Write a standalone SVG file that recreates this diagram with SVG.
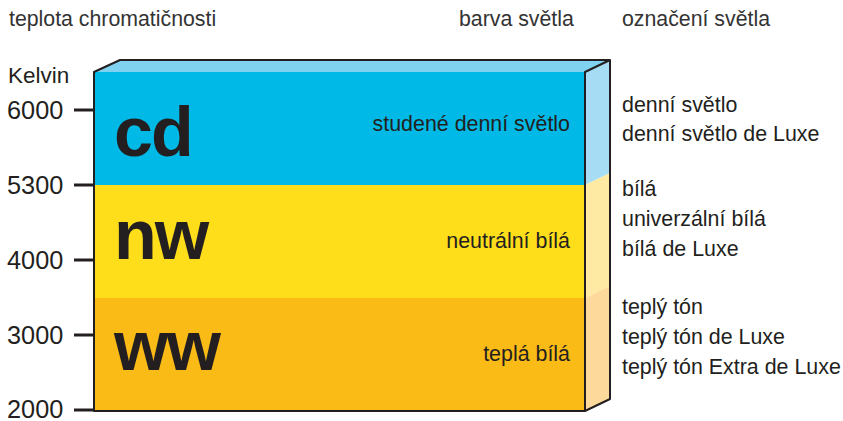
<svg xmlns="http://www.w3.org/2000/svg" width="843" height="421" viewBox="0 0 843 421">
<style>
text{font-family:"Liberation Sans",Arial,sans-serif;fill:#231f20}
.hd{font-size:21.3px;fill:#333}
.ax{font-size:25.3px}
.big{font-size:70px;font-weight:bold}
.lb{font-size:21.4px}
.tick{stroke:#231f20;stroke-width:3}
.edge{stroke:#231f20;stroke-width:2;fill:none;stroke-linejoin:round}
</style>
<rect width="843" height="421" fill="#fff"/>
<g id="headers">
<text class="hd" x="9" y="26">teplota chromatičnosti</text>
<text class="hd" x="459" y="26">barva světla</text>
<text class="hd" x="622" y="26">označení světla</text>
</g>
<g id="axis">
<text class="ax" x="8" y="83" style="font-size:22.5px">Kelvin</text>
<line class="tick" x1="74" y1="110" x2="94" y2="110"/>
<line class="tick" x1="74" y1="185" x2="94" y2="185"/>
<line class="tick" x1="74" y1="260" x2="94" y2="260"/>
<line class="tick" x1="74" y1="335" x2="94" y2="335"/>
<line class="tick" x1="74" y1="410" x2="94" y2="410"/>
<text class="ax" x="7" y="119">6000</text>
<text class="ax" x="7" y="194">5300</text>
<text class="ax" x="7" y="269">4000</text>
<text class="ax" x="7" y="344">3000</text>
<text class="ax" x="7" y="418">2000</text>
</g>
<g id="top">
<polygon points="94,72 120,60 610,60 585,72" fill="#7fd3f0"/>
</g>
<g id="cd">
<rect x="94" y="72" width="491" height="113" fill="#00b9e6"/>
<polygon points="585,72 610,60 610,173 585,185" fill="#a6dcf4"/>
<text class="big" x="114" y="156" letter-spacing="-2">cd</text>
<text class="lb" x="570" y="131" text-anchor="end">studené denní světlo</text>
<text class="lb" x="622" y="112">denní světlo</text>
<text class="lb" x="622" y="141">denní světlo de Luxe</text>
</g>
<g id="nw">
<rect x="94" y="185" width="491" height="113" fill="#fedd1b"/>
<polygon points="585,185 610,173 610,286 585,298" fill="#feeaa3"/>
<text class="big" x="114" y="259" letter-spacing="-2">nw</text>
<text class="lb" x="570" y="248" text-anchor="end">neutrální bílá</text>
<text class="lb" x="622" y="196">bílá</text>
<text class="lb" x="622" y="226">univerzální bílá</text>
<text class="lb" x="622" y="256">bílá de Luxe</text>
</g>
<g id="ww">
<rect x="94" y="298" width="491" height="113" fill="#fbbb16"/>
<polygon points="585,298 610,286 610,399 585,411" fill="#fdd99b"/>
<text class="big" x="114" y="370" letter-spacing="-2">ww</text>
<text class="lb" x="570" y="361" text-anchor="end">teplá bílá</text>
<text class="lb" x="622" y="314">teplý tón</text>
<text class="lb" x="622" y="344">teplý tón de Luxe</text>
<text class="lb" x="622" y="374">teplý tón Extra de Luxe</text>
</g>
<g id="outline">
<path class="edge" d="M94,411 V72 L120,60 H610 V399 L585,411 Z M585,411 V72 L610,60"/>
</g>
</svg>
